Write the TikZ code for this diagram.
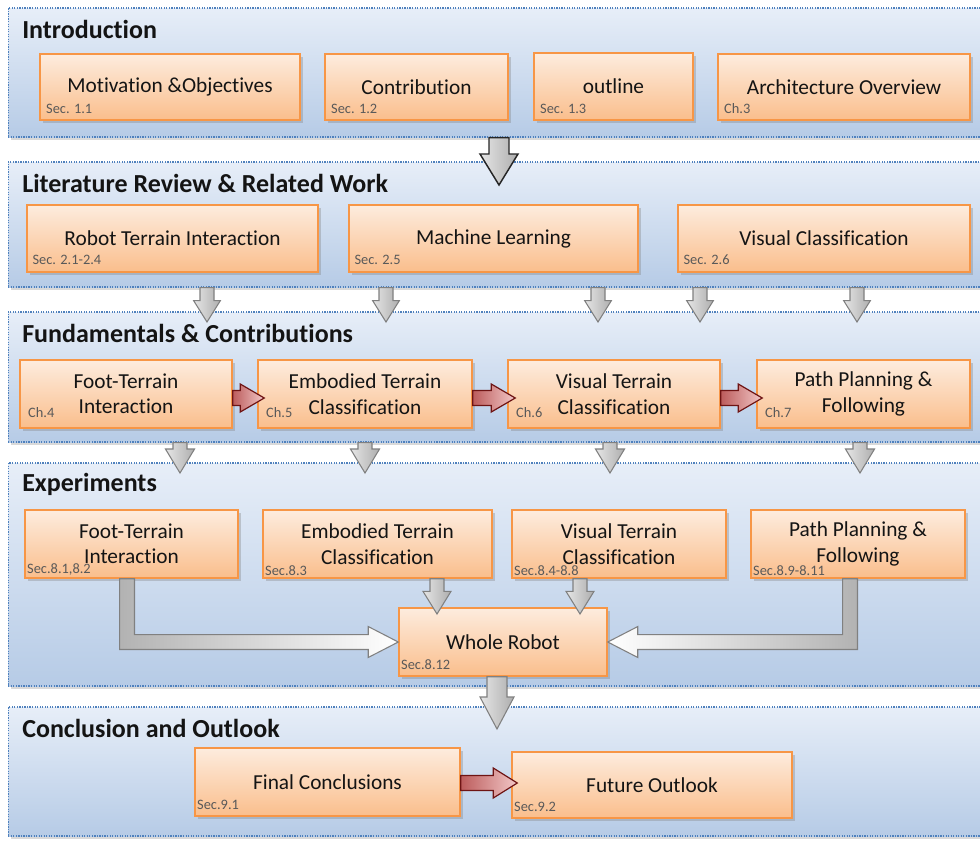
\documentclass[tikz,border=0pt]{standalone}
\usepackage{fontspec}
\setmainfont{Carlito}[Ligatures={NoCommon}]
\usetikzlibrary{shadows,calc}

\definecolor{bandtop}{RGB}{231,238,248}
\definecolor{bandbot}{RGB}{182,203,230}
\definecolor{bandline}{RGB}{79,129,189}
\definecolor{boxtop}{RGB}{253,236,222}
\definecolor{boxbot}{RGB}{250,190,140}
\definecolor{boxline}{RGB}{247,150,70}
\definecolor{redlight}{RGB}{242,200,200}
\definecolor{reddark}{RGB}{188,92,92}
\definecolor{redline}{RGB}{110,20,20}

\tikzset{
  band/.style={draw=bandline, densely dotted, line width=0.9pt,
    top color=bandtop, bottom color=bandbot, inner sep=0,
    drop shadow={opacity=0.3, shadow xshift=2pt, shadow yshift=-2pt}},
  bandtitle/.style={anchor=west, inner sep=0, text=black!92,
    font=\fontsize{19.5}{22}\selectfont\bfseries},
  stagebox/.style={draw=boxline, line width=1.1pt,
    top color=boxtop, bottom color=boxbot, inner sep=0,
    drop shadow={opacity=0.35, shadow xshift=2pt, shadow yshift=-2pt},
    font=\fontsize{16}{19}\selectfont, text=black!92, align=center},
  seclabel/.style={anchor=south west, inner sep=2pt, text=black!65,
    font=\fontsize{10.8}{12}\selectfont},
  grayarrow/.style={draw=black!50, line width=0.8pt, left color=black!10, right color=black!32},
  darkarrow/.style={grayarrow, draw=black!85, line width=1.1pt},
  faderight/.style={draw=black!50, line width=0.8pt, left color=black!30, right color=white},
  fadeleft/.style={draw=black!50, line width=0.8pt, left color=white, right color=black!30},
  redarrow/.style={draw=redline, line width=0.9pt, left color=reddark, right color=redlight},
}

% stage box: [label shift], name, x1, y1, x2, y2, text, section label
\newcommand\stage[8][]{%
  \pgfmathsetmacro\bw{(#5-#3)*0.75}%
  \pgfmathsetmacro\bh{(#6-#4)*0.75}%
  \node[stagebox, minimum width=\bw pt, minimum height=\bh pt,
        label={[seclabel,#1]south west:{#8}}] (#2) at ({(#3+#5)/2},{(#4+#6)/2}) {#7};}

% chapter band: name, y1, y2, title
\newcommand\chapband[4]{%
  \pgfmathsetmacro\bh{(#3-#2)*0.75}%
  \node[band, minimum width=740pt, minimum height=\bh pt] (#1) at (501.5,{(#2+#3)/2}) {};
  \node[bandtitle] (#1-title) at (22,{#2+21}) {#4};}

% downward block arrow: start, tip, shaft half, head half, head length
\newcommand\downarr[6][grayarrow]{%
  \draw[#1] let \p1=(#2), \p2=(#3) in
    (\x1-#4,\y1) -- (\x1+#4,\y1) -- (\x1+#4,\y2+#6) -- (\x1+#5,\y2+#6) -- (\x1,\y2)
    -- (\x1-#5,\y2+#6) -- (\x1-#4,\y2+#6) -- cycle;}

% rightward block arrow: start, tip, shaft half, head half, head length
\newcommand\rightarr[6][redarrow]{%
  \draw[#1] let \p1=(#2), \p2=(#3) in
    (\x1,\y1+#4) -- (\x2-#6,\y1+#4) -- (\x2-#6,\y1+#5) -- (\x2,\y1)
    -- (\x2-#6,\y1-#5) -- (\x2-#6,\y1-#4) -- (\x1,\y1-#4) -- cycle;}

% bent block arrows: down, then right (or left) into the tip
\newcommand\downright[6][faderight]{%
  \draw[#1] let \p1=(#2), \p2=(#3) in
    (\x1-#4,\y1) -- (\x1+#4,\y1) -- (\x1+#4,\y2+#4) -- (\x2-#6,\y2+#4) -- (\x2-#6,\y2+#5)
    -- (\x2,\y2) -- (\x2-#6,\y2-#5) -- (\x2-#6,\y2-#4) -- (\x1-#4,\y2-#4) -- cycle;}
\newcommand\downleft[6][fadeleft]{%
  \draw[#1] let \p1=(#2), \p2=(#3) in
    (\x1+#4,\y1) -- (\x1-#4,\y1) -- (\x1-#4,\y2+#4) -- (\x2+#6,\y2+#4) -- (\x2+#6,\y2+#5)
    -- (\x2,\y2) -- (\x2+#6,\y2-#5) -- (\x2+#6,\y2-#4) -- (\x1+#4,\y2-#4) -- cycle;}

\begin{document}
\begin{tikzpicture}[x=0.75pt, y=-0.75pt]
\useasboundingbox (0,0) rectangle (980,840);
\clip (0,0) rectangle (980,840);

% ---------------- chapter bands ----------------
\chapband{intro}{8}{137}{Introduction}
\chapband{lit}{162}{287}{Literature Review \& Related Work}
\chapband{fund}{312}{442}{Fundamentals \& Contributions}
\chapband{exp}{463}{686}{Experiments}
\chapband{concl}{707}{836}{Conclusion and Outlook}

% ---------------- Introduction ----------------
\tikzset{introlab/.style={xshift=3pt, yshift=3pt}}
\stage[introlab]{mot}{40}{54}{300}{120}{Motivation \&Objectives}{Sec. 1.1}
\stage[introlab]{contrib}{325}{54}{508}{120}{Contribution}{Sec. 1.2}
\stage[introlab]{outl}{534}{53}{693}{120}{outline}{Sec. 1.3}
\stage[introlab]{arch}{718}{54}{970}{120}{Architecture Overview}{Ch.3}

% ---------------- Literature ----------------
\tikzset{litlab/.style={xshift=2.5pt, yshift=4pt}}
\stage[litlab]{rti}{27}{205}{318}{272}{Robot Terrain Interaction}{Sec. 2.1-2.4}
\stage[litlab]{ml}{349}{205}{638}{272}{Machine Learning}{Sec. 2.5}
\stage[litlab]{vc}{678}{205}{970}{272}{Visual Classification}{Sec. 2.6}

% ---------------- Fundamentals ----------------
\tikzset{fundlab/.style={xshift=4.5pt, yshift=6pt}}
\stage[fundlab]{ftf}{20}{360}{232}{428}{Foot-Terrain\\Interaction}{Ch.4}
\stage[fundlab]{etf}{258}{360}{472}{428}{Embodied Terrain\\Classification}{Ch.5}
\stage[fundlab]{vtf}{508}{360}{720}{428}{Visual Terrain\\Classification}{Ch.6}
\stage[fundlab]{ppf}{757}{360}{970}{428}{Path Planning \&\\Following}{Ch.7}

% ---------------- Experiments ----------------
\stage{fte}{25}{510}{238}{578}{Foot-Terrain\\Interaction}{Sec.8.1,8.2}
\stage{ete}{263}{510}{492}{578}{Embodied Terrain\\Classification}{Sec.8.3}
\stage{vte}{512}{510}{726}{578}{Visual Terrain\\Classification}{Sec.8.4-8.8}
\stage{ppe}{751}{510}{965}{578}{Path Planning \&\\Following}{Sec.8.9-8.11}
\stage[yshift=3.5pt]{whole}{399}{608}{607}{676}{Whole Robot}{Sec.8.12}

% ---------------- Conclusion ----------------
\stage[yshift=3.5pt]{fc}{195}{748}{460}{816}{Final Conclusions}{Sec.9.1}
\stage[yshift=3.5pt]{fo}{512}{752}{792}{818}{Future Outlook}{Sec.9.2}

% ---------------- arrow tips ----------------
\coordinate (il) at (499,185);
\coordinate (lf1) at (207,322);
\coordinate (lf2) at (386,322);
\coordinate (lf3) at (598,322);
\coordinate (lf4) at (700,322);
\coordinate (lf5) at (857,322);
\coordinate (fe1) at (180,473);
\coordinate (fe2) at (365,473);
\coordinate (fe3) at (610,473);
\coordinate (fe4) at (860,473);
\coordinate (ew1) at (437,614);
\coordinate (ew2) at (580,614);
\coordinate (wc) at (497,729);

% between chapters
\downarr[darkarrow]{intro.south -| il}{il}{7.5pt}{14.25pt}{23.25pt}
\foreach \t in {lf1,lf2,lf3,lf4,lf5}{\downarr{lit.south -| \t}{\t}{5.25pt}{10pt}{16pt}}
\foreach \t in {fe1,fe2,fe3,fe4}{\downarr{fund.south -| \t}{\t}{5.25pt}{10.9pt}{18pt}}
\downarr{whole.south -| wc}{wc}{7.5pt}{12.75pt}{24pt}

% experiments into the whole robot
\downarr{ete.south -| ew1}{ew1}{5.25pt}{10.5pt}{17pt}
\downarr{vte.south -| ew2}{ew2}{5.25pt}{10.5pt}{17pt}
\downright{$(fte.south)+(-4.5,0)$}{whole.west}{5.6pt}{11.6pt}{22.5pt}
\downleft{$(ppe.south)+(-8,0)$}{whole.east}{5.6pt}{11.6pt}{22.5pt}

% contribution chain
\rightarr{$(ftf.east)+(0,4)$}{$(etf.west)+(7,4)$}{5.6pt}{10.5pt}{18pt}
\rightarr{$(etf.east)+(0,4)$}{$(vtf.west)+(8,4)$}{5.6pt}{10.5pt}{18pt}
\rightarr{$(vtf.east)+(0,4)$}{$(ppf.west)+(6,4)$}{5.6pt}{10.5pt}{18pt}
\rightarr{$(fc.east)+(0,1)$}{$(fo.west)+(6,1)$}{5.6pt}{11.25pt}{18pt}
\end{tikzpicture}
\end{document}
